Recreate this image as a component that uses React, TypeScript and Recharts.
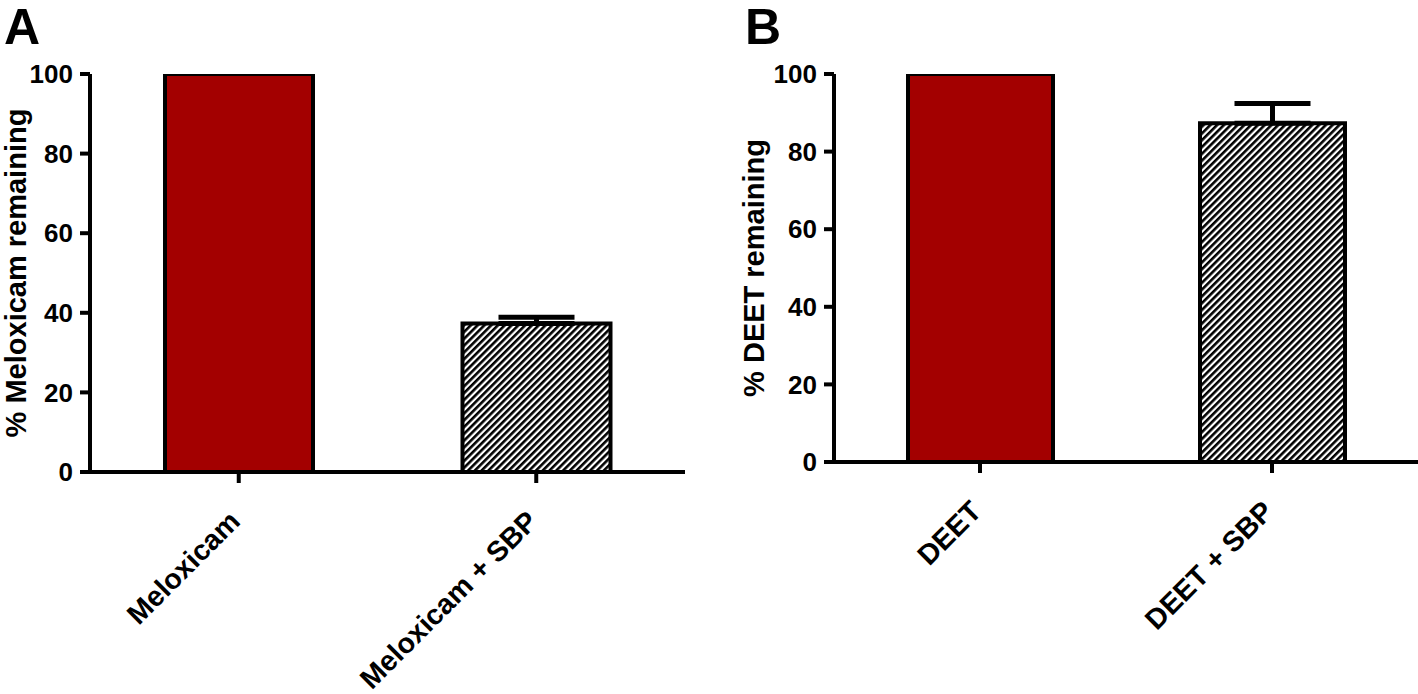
import React from 'react';
import { BarChart, Bar, XAxis, YAxis, Cell, ErrorBar } from 'recharts';

// panel A
const CATS_A = ['Meloxicam', 'Meloxicam + SBP'];
const VALUES_A = [100, 37.3];
const ERR_A = [null, 1.6];

// panel B
const CATS_B = ['DEET', 'DEET + SBP'];
const VALUES_B = [100, 87.3];
const ERR_B = [null, 5.1];

const Y_TICKS = [0, 20, 40, 60, 80, 100];

const FONT = '"Liberation Sans", Arial, Helvetica, sans-serif';
const RED = '#a30000';

const buildData = (cats: string[], vals: number[], errs: (number | null)[]) =>
  cats.map((name, i) => ({
    name,
    value: vals[i],
    err: errs[i] == null ? null : [0, errs[i]],
  }));

const dataA = buildData(CATS_A, VALUES_A, ERR_A);
const dataB = buildData(CATS_B, VALUES_B, ERR_B);

const XTick = (props: any) => {
  const { x, y, payload } = props;
  const ax = x + 3;
  const ay = y + 38;
  return (
    <text
      x={ax}
      y={ay}
      textAnchor="end"
      transform={`rotate(-45, ${ax}, ${ay})`}
      fill="#000"
      fontSize={28.5}
      fontWeight={700}
      fontFamily={FONT}
    >
      {payload.value}
    </text>
  );
};

const AxisTitle = (props: any) => {
  const { viewBox, text, gap } = props;
  const x = viewBox.x + viewBox.width - gap;
  const y = viewBox.y + viewBox.height / 2;
  return (
    <text
      x={x}
      y={y}
      textAnchor="middle"
      transform={`rotate(-90, ${x}, ${y})`}
      fill="#000"
      fontSize={29}
      fontWeight={700}
      fontFamily={FONT}
    >
      {text}
    </text>
  );
};

const Hatch = ({ id }: { id: string }) => (
  <defs>
    <pattern id={id} patternUnits="userSpaceOnUse" width={4.8} height={4.8} patternTransform="rotate(45)">
      <rect x={0} y={0} width={4.8} height={4.8} fill="#fff" />
      <rect x={0} y={0} width={2.6} height={4.8} fill="#000" />
    </pattern>
  </defs>
);

interface PanelProps {
  data: any[];
  title: string;
  hatchId: string;
  width: number;
  margin: { top: number; right: number; bottom: number; left: number };
  barSize: number;
  titleGap: number;
}

const Panel: React.FC<PanelProps> = ({ data, title, hatchId, width, margin, barSize, titleGap }) => {
  const fills = [RED, `url(#${hatchId})`];
  return (
    <BarChart width={width} height={694} data={data} margin={margin}>
      <Hatch id={hatchId} />
      <XAxis
        dataKey="name"
        height={200}
        interval={0}
        tick={<XTick />}
        tickSize={11}
        axisLine={{ stroke: '#000', strokeWidth: 4 }}
        tickLine={{ stroke: '#000', strokeWidth: 4 }}
      />
      <YAxis
        width={90}
        domain={[0, 100]}
        ticks={Y_TICKS}
        allowDataOverflow
        tickSize={10}
        tickMargin={7}
        axisLine={{ stroke: '#000', strokeWidth: 4 }}
        tickLine={{ stroke: '#000', strokeWidth: 4 }}
        tick={{ fill: '#000', fontSize: 26, fontWeight: 700, fontFamily: FONT }}
        label={<AxisTitle text={title} gap={titleGap} />}
      />
      <Bar dataKey="value" barSize={barSize} stroke="#000" strokeWidth={4} isAnimationActive={false}>
        {data.map((d, i) => (
          <Cell key={`cell-${d.name}`} fill={fills[i]} />
        ))}
        <ErrorBar dataKey="err" direction="y" width={38} stroke="#000" strokeWidth={5} isAnimationActive={false} />
      </Bar>
    </BarChart>
  );
};

const App: React.FC = () => {
  return (
    <div style={{ position: 'absolute', left: 0, top: 0, width: 1418, height: 694, background: '#fff', overflow: 'hidden' }}>
      <div style={{ position: 'absolute', left: 0, top: 0 }}>
        <Panel
          data={dataA}
          title="% Meloxicam remaining"
          hatchId="hatchA"
          width={700}
          margin={{ top: 74, right: 15, bottom: 22, left: 0 }}
          barSize={148}
          titleGap={64}
        />
      </div>
      <div style={{ position: 'absolute', left: 709, top: 0 }}>
        <Panel
          data={dataB}
          title="% DEET remaining"
          hatchId="hatchB"
          width={709}
          margin={{ top: 74, right: 0, bottom: 32, left: 35 }}
          barSize={145}
          titleGap={70}
        />
      </div>
      <svg width={1418} height={694} style={{ position: 'absolute', left: 0, top: 0, pointerEvents: 'none' }}>
        <text x={4} y={44} fontSize={50} fontWeight={700} fontFamily={FONT} fill="#000">A</text>
        <text x={745} y={44} fontSize={50} fontWeight={700} fontFamily={FONT} fill="#000">B</text>
      </svg>
    </div>
  );
};

export default App;
